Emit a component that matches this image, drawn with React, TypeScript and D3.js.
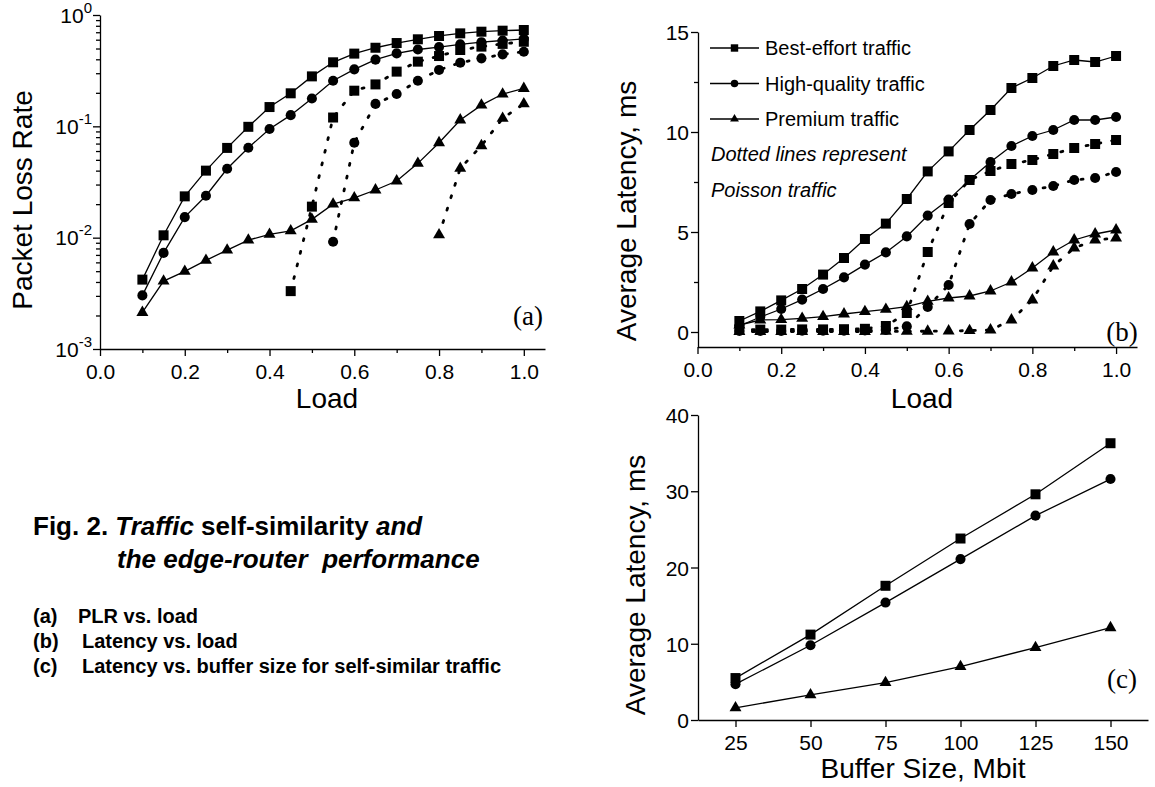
import { useEffect, useRef } from 'react';
import * as d3 from 'd3';

// load values shared by panels (a) and (b)
const loads = [0.1, 0.15, 0.2, 0.25, 0.3, 0.35, 0.4, 0.45, 0.5, 0.55, 0.6, 0.65, 0.7, 0.75, 0.8, 0.85, 0.9, 0.95, 1.0];
const loadTicks = [0, 0.2, 0.4, 0.6, 0.8, 1.0];
const loadMinorTicks = [0.1, 0.3, 0.5, 0.7, 0.9];

// (a) packet loss rate, self-similar traffic
const plrBest = [0.0042, 0.0105, 0.0235, 0.04, 0.064, 0.099, 0.149, 0.198, 0.281, 0.376, 0.45, 0.508, 0.56, 0.605, 0.648, 0.684, 0.708, 0.723, 0.733];
const plrHigh = [0.00303, 0.0073, 0.0153, 0.0238, 0.0416, 0.0642, 0.0946, 0.126, 0.178, 0.257, 0.325, 0.397, 0.452, 0.49, 0.515, 0.545, 0.57, 0.59, 0.61];
const plrPremium = [0.00213, 0.00407, 0.00498, 0.00625, 0.00774, 0.00951, 0.0107, 0.0115, 0.0146, 0.02, 0.0228, 0.0268, 0.0323, 0.0465, 0.0713, 0.114, 0.155, 0.195, 0.219];

// (a) packet loss rate, Poisson traffic (only where loss > 0)
const plrBestPoissonLoads = [0.45, 0.5, 0.55, 0.6, 0.65, 0.7, 0.75, 0.8, 0.85, 0.9, 0.95, 1.0];
const plrBestPoisson = [0.00331, 0.019, 0.12, 0.209, 0.238, 0.31, 0.381, 0.428, 0.485, 0.52, 0.55, 0.575];
const plrHighPoissonLoads = [0.55, 0.6, 0.65, 0.7, 0.75, 0.8, 0.85, 0.9, 0.95, 1.0];
const plrHighPoisson = [0.0092, 0.0713, 0.159, 0.195, 0.257, 0.321, 0.373, 0.408, 0.443, 0.468];
const plrPremiumPoissonLoads = [0.8, 0.85, 0.9, 0.95, 1.0];
const plrPremiumPoisson = [0.0106, 0.0419, 0.067, 0.118, 0.159];
const plrTicks = [0.001, 0.01, 0.1, 1];

// (b) average latency (ms) vs load
const latBest = [0.55, 1.03, 1.58, 2.15, 2.87, 3.7, 4.65, 5.42, 6.65, 8.03, 9.03, 10.1, 11.1, 12.2, 12.7, 13.3, 13.6, 13.5, 13.8];
const latHigh = [0.3, 0.75, 1.15, 1.62, 2.15, 2.73, 3.37, 3.98, 4.78, 5.82, 6.62, 7.6, 8.5, 9.3, 9.8, 10.1, 10.6, 10.6, 10.75];
const latPremium = [0.35, 0.6, 0.62, 0.68, 0.77, 0.9, 1.02, 1.13, 1.27, 1.53, 1.7, 1.8, 2.05, 2.5, 3.2, 4.0, 4.6, 4.9, 5.1];
const latBestPoisson = [0.12, 0.12, 0.12, 0.13, 0.13, 0.14, 0.16, 0.3, 0.95, 4.0, 6.45, 7.6, 8.05, 8.4, 8.6, 8.9, 9.2, 9.4, 9.6];
const latHighPoisson = [0.05, 0.05, 0.05, 0.06, 0.06, 0.07, 0.08, 0.1, 0.28, 1.25, 2.35, 5.4, 6.6, 6.9, 7.1, 7.3, 7.6, 7.7, 8.0];
const latPremiumPoisson = [0.02, 0.02, 0.02, 0.02, 0.02, 0.02, 0.02, 0.03, 0.03, 0.04, 0.05, 0.07, 0.1, 0.6, 1.6, 3.3, 4.2, 4.6, 4.7];
const latTicks = [0, 5, 10, 15];
const latMinorTicks = [2.5, 7.5, 12.5];

// (c) average latency (ms) vs buffer size, self-similar traffic
const bufferSizes = [25, 50, 75, 100, 125, 150];
const bufBest = [5.5, 11.2, 17.6, 23.8, 29.6, 36.3];
const bufHigh = [4.7, 9.8, 15.4, 21.1, 26.8, 31.6];
const bufPremium = [1.6, 3.3, 4.9, 7.0, 9.5, 12.1];
const bufLatTicks = [0, 10, 20, 30, 40];

const legendNames = ['Best-effort traffic', 'High-quality traffic', 'Premium traffic'];

const SANS = "'Liberation Sans', Arial, Helvetica, sans-serif";
const SERIF = "'Liberation Serif', 'Times New Roman', serif";

type Shape = 'square' | 'circle' | 'triangle';
const symbolTypes = { square: d3.symbolSquare, circle: d3.symbolCircle, triangle: d3.symbolTriangle };
const symbolSizes = { square: 100, circle: 80, triangle: 62 };

function drawSeries(g: any, xs: number[], ys: number[], x: any, y: any, shape: Shape, dotted = false) {
  const line = d3
    .line<number>()
    .x((_, i) => x(xs[i]))
    .y(d => y(d));
  g.append('path')
    .datum(ys)
    .attr('d', line)
    .attr('fill', 'none')
    .attr('stroke', '#000')
    .attr('stroke-width', dotted ? 2.8 : 1.3)
    .attr('stroke-linecap', dotted ? 'round' : 'butt')
    .attr('stroke-dasharray', dotted ? '2 11' : null);
  g.append('g')
    .selectAll('path')
    .data(ys)
    .join('path')
    .attr('transform', (d: number, i: number) => `translate(${x(xs[i])},${y(d)})`)
    .attr('d', d3.symbol().type(symbolTypes[shape]).size(symbolSizes[shape])())
    .attr('fill', '#000');
}

function styleAxis(ax: any) {
  ax.attr('font-family', SANS).attr('font-size', 21).attr('color', '#000');
  ax.selectAll('path, line').attr('stroke-width', 1.3);
}

function bottomAxis(g: any, x: any, y0: number, major: number[], minor: number[], fmt: (d: any) => string) {
  const ax = g.append('g').attr('transform', `translate(0,${y0})`);
  ax.call(d3.axisBottom(x).tickValues(major).tickSize(7).tickSizeOuter(0).tickPadding(8).tickFormat(fmt));
  if (minor.length) {
    ax.append('g')
      .call(d3.axisBottom(x).tickValues(minor).tickSize(4).tickFormat(() => ''))
      .call((s: any) => s.select('.domain').remove());
  }
  styleAxis(ax);
}

function leftAxis(g: any, y: any, x0: number, major: number[], minor: number[], fmt: (d: any) => string) {
  const ax = g.append('g').attr('transform', `translate(${x0},0)`);
  ax.call(d3.axisLeft(y).tickValues(major).tickSize(7).tickSizeOuter(0).tickPadding(2).tickFormat(fmt));
  if (minor.length) {
    ax.append('g')
      .call(d3.axisLeft(y).tickValues(minor).tickSize(4).tickFormat(() => ''))
      .call((s: any) => s.select('.domain').remove());
  }
  styleAxis(ax);
  ax.selectAll('.tick text').attr('dy', '0.36em');
}

function axisTitle(g: any, text: string, x: number, y: number, rotate = false) {
  g.append('text')
    .attr('transform', rotate ? `translate(${x},${y}) rotate(-90)` : `translate(${x},${y})`)
    .attr('text-anchor', 'middle')
    .attr('font-family', SANS)
    .attr('font-size', 28)
    .text(text);
}

function panelLabel(g: any, text: string, x: number, y: number) {
  g.append('text').attr('x', x).attr('y', y).attr('text-anchor', 'middle').attr('font-family', SERIF).attr('font-size', 27).text(text);
}

export default function App() {
  const svgRef = useRef<SVGSVGElement>(null);

  useEffect(() => {
    const svg = d3.select(svgRef.current);
    svg.selectAll('*').remove();
    const fmtLoad = (d: number) => d3.format('.1f')(d);

    // ---------- (a) PLR vs load ----------
    const a = svg.append('g');
    const xA = d3.scaleLinear().domain([0, 1.05]).range([100, 545]);
    const yA = d3.scaleLog().domain([0.001, 1]).range([349, 15]);
    bottomAxis(a, xA, 349, loadTicks, loadMinorTicks, fmtLoad);
    const minorLog = yA.ticks().filter(v => !plrTicks.includes(v));
    leftAxis(a, yA, 100, plrTicks, minorLog, () => '');
    plrTicks.forEach(v => {
      const t = a.append('text').attr('x', 92).attr('y', yA(v) + 7.5).attr('text-anchor', 'end').attr('font-family', SANS).attr('font-size', 21);
      t.append('tspan').text('10');
      t.append('tspan').attr('dy', -10).attr('font-size', 15).text(String(Math.round(Math.log10(v))));
    });
    drawSeries(a, loads, plrPremium, xA, yA, 'triangle');
    drawSeries(a, loads, plrHigh, xA, yA, 'circle');
    drawSeries(a, loads, plrBest, xA, yA, 'square');
    drawSeries(a, plrPremiumPoissonLoads, plrPremiumPoisson, xA, yA, 'triangle', true);
    drawSeries(a, plrHighPoissonLoads, plrHighPoisson, xA, yA, 'circle', true);
    drawSeries(a, plrBestPoissonLoads, plrBestPoisson, xA, yA, 'square', true);
    axisTitle(a, 'Packet Loss Rate', 32, 200, true);
    axisTitle(a, 'Load', 327, 408);
    panelLabel(a, '(a)', 528, 325);

    // ---------- (b) latency vs load ----------
    const b = svg.append('g');
    const xB = d3.scaleLinear().domain([0, 1.05]).range([697.5, 1137]);
    const yB = d3.scaleLinear().domain([-0.75, 15]).range([347, 32]);
    bottomAxis(b, xB, 347, loadTicks, loadMinorTicks, fmtLoad);
    leftAxis(b, yB, 698, latTicks, latMinorTicks, d => String(d));
    drawSeries(b, loads, latPremiumPoisson, xB, yB, 'triangle', true);
    drawSeries(b, loads, latHighPoisson, xB, yB, 'circle', true);
    drawSeries(b, loads, latBestPoisson, xB, yB, 'square', true);
    drawSeries(b, loads, latPremium, xB, yB, 'triangle');
    drawSeries(b, loads, latHigh, xB, yB, 'circle');
    drawSeries(b, loads, latBest, xB, yB, 'square');
    axisTitle(b, 'Average Latency, ms', 636, 211, true);
    axisTitle(b, 'Load', 922, 408);
    panelLabel(b, '(b)', 1122, 341);

    // legend
    const shapes: Shape[] = ['square', 'circle', 'triangle'];
    const legendRows = [48, 83.5, 119];
    legendNames.forEach((name, i) => {
      const cy = legendRows[i];
      b.append('line').attr('x1', 710).attr('x2', 759).attr('y1', cy).attr('y2', cy).attr('stroke', '#000').attr('stroke-width', 1.3);
      b.append('path')
        .attr('transform', `translate(734.5,${cy})`)
        .attr('d', d3.symbol().type(symbolTypes[shapes[i]]).size(symbolSizes[shapes[i]] * 0.55)())
        .attr('fill', '#000');
      b.append('text').attr('x', 765).attr('y', cy + 7.2).attr('font-family', SANS).attr('font-size', 20).text(name);
    });
    ['Dotted lines represent', 'Poisson traffic'].forEach((line, i) => {
      b.append('text')
        .attr('x', 711)
        .attr('y', 161 + i * 36)
        .attr('font-family', SANS)
        .attr('font-size', 20)
        .attr('font-style', 'italic')
        .text(line);
    });

    // ---------- (c) latency vs buffer size ----------
    const c = svg.append('g');
    const xC = d3.scaleLinear().domain([12.5, 162.5]).range([698, 1148]);
    const yC = d3.scaleLinear().domain([0, 40]).range([720, 415]);
    bottomAxis(c, xC, 720, bufferSizes, [], d => String(d));
    leftAxis(c, yC, 698, bufLatTicks, [], d => String(d));
    drawSeries(c, bufferSizes, bufPremium, xC, yC, 'triangle');
    drawSeries(c, bufferSizes, bufHigh, xC, yC, 'circle');
    drawSeries(c, bufferSizes, bufBest, xC, yC, 'square');
    axisTitle(c, 'Average Latency, ms', 645, 585, true);
    axisTitle(c, 'Buffer Size, Mbit', 923, 778);
    panelLabel(c, '(c)', 1122, 688);

    // ---------- caption ----------
    const cap = svg.append('g').attr('font-family', SANS).attr('font-weight', 'bold');
    const l1 = cap.append('text').attr('x', 33).attr('y', 535).attr('font-size', 26).attr('xml:space', 'preserve').style('white-space', 'pre');
    l1.append('tspan').text('Fig. 2. ');
    l1.append('tspan').attr('font-style', 'italic').text('Traffic');
    l1.append('tspan').text(' self-similarity ');
    l1.append('tspan').attr('font-style', 'italic').text('and');
    cap.append('text')
      .attr('x', 117)
      .attr('y', 568)
      .attr('font-size', 26)
      .attr('font-style', 'italic')
      .attr('xml:space', 'preserve')
      .style('white-space', 'pre')
      .text('the edge-router  performance');
    const subs = [
      ['(a)', 'PLR vs. load'],
      ['(b)', 'Latency vs. load'],
      ['(c)', 'Latency vs. buffer size for self-similar traffic'],
    ];
    subs.forEach(([k, t], i) => {
      cap.append('text').attr('x', 33).attr('y', 623 + i * 25).attr('font-size', 20).text(k);
      cap.append('text').attr('x', i === 0 ? 78 : 82).attr('y', 623 + i * 25).attr('font-size', 20).text(t);
    });
  }, []);

  return (
    <div style={{ position: 'absolute', left: 0, top: 0, background: '#fff' }}>
      <svg ref={svgRef} width={1155} height={787} />
    </div>
  );
}
